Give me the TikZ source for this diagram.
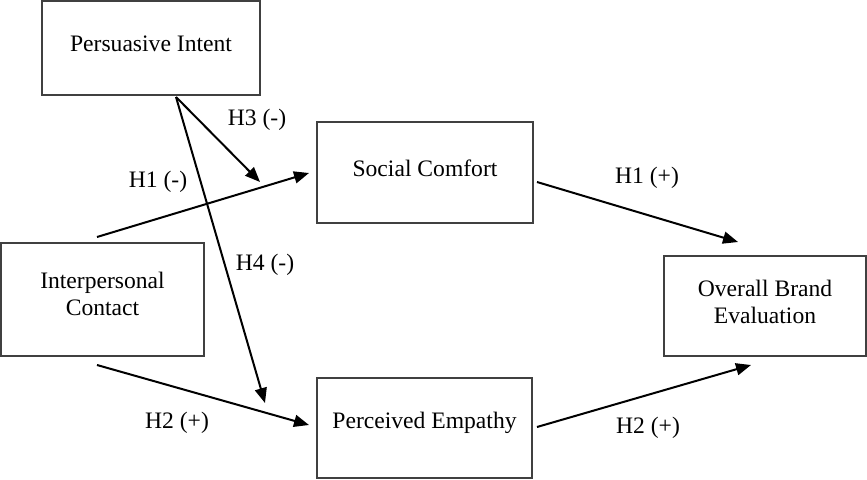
\documentclass[tikz,border=0pt]{standalone}
\usepackage{fontspec}
\setmainfont{Liberation Serif}
\usetikzlibrary{arrows.meta}
\begin{document}
\begin{tikzpicture}[x=1pt,y=-1pt,
  box/.style={draw=black!75,line width=1.3pt,rectangle,inner sep=0pt,outer sep=0pt},
  txt/.style={font=\fontsize{23.6}{27}\selectfont,align=center,inner sep=0pt},
  lab/.style={font=\fontsize{23.6}{27}\selectfont,inner sep=0pt},
  arr/.style={line width=2pt,-{Triangle[length=15pt,width=12pt]}}]
\useasboundingbox[fill=white] (0,0) rectangle (867,479);
% boxes
\node[box,minimum width=218pt,minimum height=94pt] (pi) at (151,48) {};
\node[box,minimum width=216pt,minimum height=101pt] (sc) at (425,172.5) {};
\node[box,minimum width=203pt,minimum height=113pt] (ic) at (102.5,299.5) {};
\node[box,minimum width=202pt,minimum height=100pt] (obe) at (765,306) {};
\node[box,minimum width=215pt,minimum height=100pt] (pe) at (424.5,428) {};
% texts
\node[txt] (pit) at (151,44) {Persuasive Intent};
\node[txt] (sct) at (425,168) {Social Comfort};
\node[txt] (ict) at (102.5,294) {Interpersonal\\Contact};
\node[txt] (obet) at (765,302) {Overall Brand\\Evaluation};
\node[txt] (pet) at (424.5,423) {Perceived Empathy};
% connector endpoints
\coordinate (pis) at (176,97);
\coordinate (h3e) at (260,182);
\coordinate (h4e) at (265,403);
\coordinate (ics1) at (97,237);
\coordinate (h1e) at (309,173);
\coordinate (ics2) at (97,365);
\coordinate (h2e) at (309,425);
\coordinate (scs) at (537,182);
\coordinate (h1pe) at (738,242);
\coordinate (pes) at (537,427);
\coordinate (h2pe) at (751,365);
% arrows
\draw[arr] (pis) -- (h3e);
\draw[arr] (pis) -- (h4e);
\draw[arr] (ics1) -- (h1e);
\draw[arr] (ics2) -- (h2e);
\draw[arr] (scs) -- (h1pe);
\draw[arr] (pes) -- (h2pe);
% labels
\node[lab] (l3) at (257,120) {H3 (-)};
\node[lab] (l1m) at (158,182) {H1 (-)};
\node[lab] (l4) at (265,265) {H4 (-)};
\node[lab] (l2l) at (177,423) {H2 (+)};
\node[lab] (l1p) at (647,178) {H1 (+)};
\node[lab] (l2p) at (648,428) {H2 (+)};
\end{tikzpicture}
\end{document}
